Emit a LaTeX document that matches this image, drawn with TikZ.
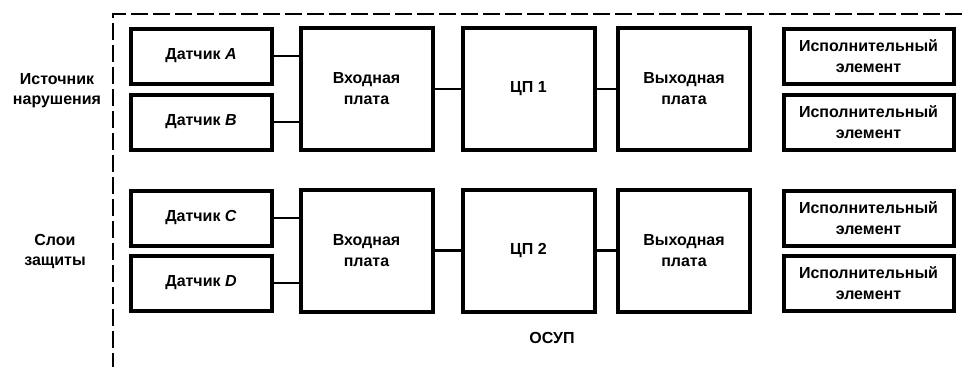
\documentclass[tikz,border=0pt]{standalone}
\usepackage{fontspec}
\setmainfont{Liberation Sans}
\begin{document}
\begin{tikzpicture}[x=1pt,y=-1pt,
  box/.style={draw, line width=4pt, inner sep=0pt, align=center,
    font=\bfseries\fontsize{16}{21}\selectfont},
  sens/.style={box, minimum width=141pt, minimum height=55pt},
  big/.style={box, minimum width=132pt, minimum height=122pt},
  act/.style={box, minimum width=170pt, minimum height=55pt},
  link/.style={line width=2.5pt},
  lbl/.style={align=center, font=\bfseries\fontsize{16}{20}\selectfont},
  frame/.style={line width=2.5pt, dash pattern=on 17pt off 5pt}]
\useasboundingbox (0,0) rectangle (962,367);
% frame
\coordinate (tl) at (113,14);
\coordinate (tr) at (962,14);
\coordinate (bl) at (113,367);
\draw[frame] (tr) -- (tl) -- (bl);
% upper row
\node[sens] (sa) at (201,56) {Датчик \textit{A}};
\node[sens] (sb) at (201,122) {Датчик \textit{B}};
\node[big] (in1) at (366.5,89) {Входная\\плата};
\node[big] (cpu1) at (528.5,89) {ЦП 1};
\node[big] (out1) at (684,89) {Выходная\\плата};
\node[act] (a1) at (868.5,56) {Исполнительный\\элемент};
\node[act] (a2) at (868.5,122) {Исполнительный\\элемент};
% lower row
\node[sens] (sc) at (201,218) {Датчик \textit{C}};
\node[sens] (sd) at (201,283) {Датчик \textit{D}};
\node[big] (in2) at (366.5,250.5) {Входная\\плата};
\node[big] (cpu2) at (528.5,250.5) {ЦП 2};
\node[big] (out2) at (684,250.5) {Выходная\\плата};
\node[act] (a3) at (868.5,218) {Исполнительный\\элемент};
\node[act] (a4) at (868.5,283) {Исполнительный\\элемент};
% connectors
\draw[link] (sa.east) -- (sa.east -| in1.west);
\draw[link] (sb.east) -- (sb.east -| in1.west);
\draw[link] (in1.east) -- (cpu1.west);
\draw[link] (cpu1.east) -- (out1.west);
\draw[link] (sc.east) -- (sc.east -| in2.west);
\draw[link] (sd.east) -- (sd.east -| in2.west);
\draw[link] (in2.east) -- (cpu2.west);
\draw[link] (cpu2.east) -- (out2.west);
% labels
\node[lbl] (src) at (57,91) {Источник\\нарушения};
\node[lbl] (lay) at (55,252) {Слои\\защиты};
\node[lbl] (osup) at (552,338) {ОСУП};
\end{tikzpicture}
\end{document}
